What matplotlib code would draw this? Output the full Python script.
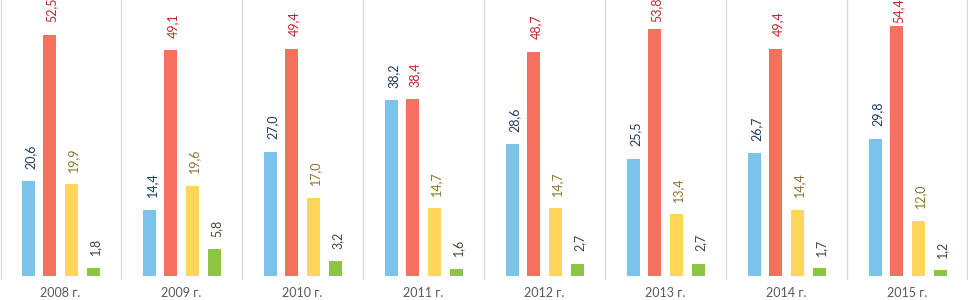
import matplotlib
matplotlib.use("Agg")
import matplotlib.pyplot as plt
import numpy as np

years = ["2008 г.", "2009 г.", "2010 г.", "2011 г.", "2012 г.", "2013 г.", "2014 г.", "2015 г."]
blue = [20.6, 14.4, 27.0, 38.2, 28.6, 25.5, 26.7, 29.8]
red = [52.5, 49.1, 49.4, 38.4, 48.7, 53.8, 49.4, 54.4]
yellow = [19.9, 19.6, 17.0, 14.7, 14.7, 13.4, 14.4, 12.0]
green = [1.8, 5.8, 3.2, 1.6, 2.7, 2.7, 1.7, 1.2]

series = [blue, red, yellow, green]
bar_colors = ["#7CC3EC", "#F4705F", "#FFD55A", "#8CC542"]
label_colors = ["#1F3A5F", "#C0282A", "#8A7530", "#3E4A36"]
offsets = [0.236, 0.409, 0.591, 0.773]
width = 0.107

plt.rcParams['font.family'] = ['Lato', 'DejaVu Sans']

fig = plt.figure(figsize=(9.68, 3.0), dpi=100)
ax = fig.add_axes([0, 0.08, 1, 0.92])
n = len(years)
base = np.arange(n)
labels = []
for vals, off, bc, lc in zip(series, offsets, bar_colors, label_colors):
    xs = base + off
    ax.bar(xs, vals, width=width, color=bc, zorder=2)
    for x, v in zip(xs, vals):
        a = ax.annotate(f"{v:.1f}".replace(".", ","), (x, v), xytext=(1.5, 9),
                        textcoords="offset points", rotation=90, ha="center",
                        va="bottom", fontsize=9, color=lc, annotation_clip=False)
        labels.append(a)

for b in range(n + 1):
    xb = b if 0 < b < n else (0.008 if b == 0 else n - 0.012)
    ax.axvline(xb, ymin=-0.01, ymax=1, color="#D9D9D9", lw=1, zorder=1, clip_on=False)

ax.set_xlim(0, n)
ax.set_ylim(0, 60)
for s in ax.spines.values():
    s.set_visible(False)
ax.set_yticks([])
ax.set_xticks(base + 0.5)
ax.set_xticklabels(years, fontsize=9, color="#595959")
ax.tick_params(axis="x", length=0, pad=8)

# keep labels (roughly) inside the chart area, as the original does
fig.canvas.draw()
r = fig.canvas.get_renderer()
H = fig.bbox.height
limit = H + 2
for a in labels:
    bb = a.get_window_extent(r)
    if bb.y1 > limit:
        shift_px = bb.y1 - limit
        dx, dy = a.xyann
        a.xyann = (dx, dy - shift_px * 72.0 / fig.dpi)

fig.savefig("out.png", dpi=100)
